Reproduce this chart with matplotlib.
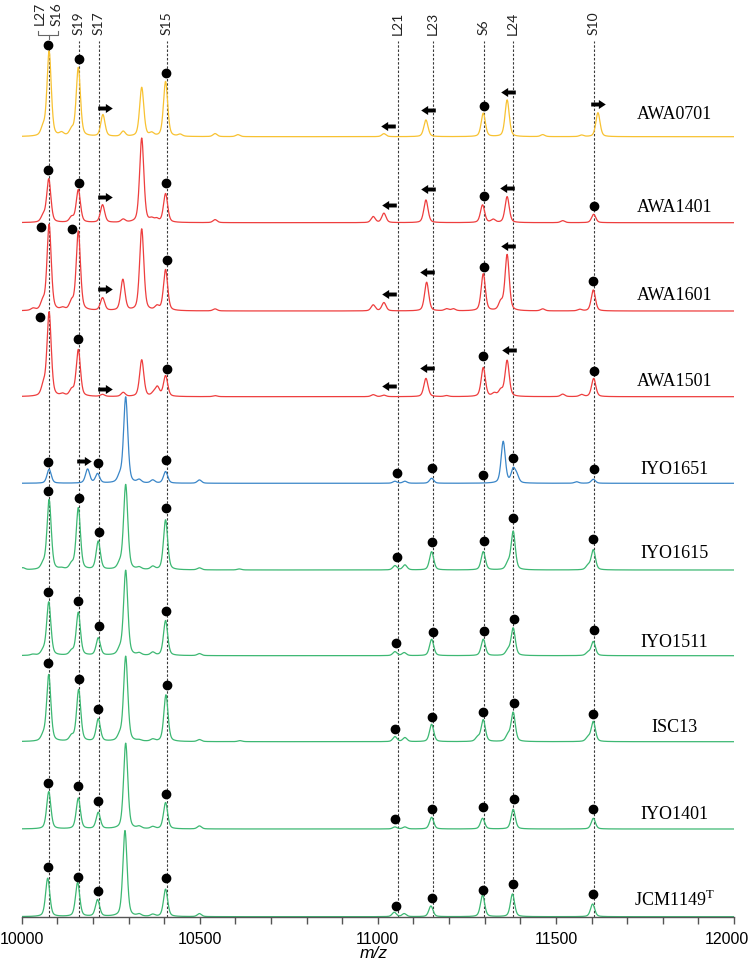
import matplotlib
matplotlib.use('Agg')

import numpy as np
import matplotlib.pyplot as plt
from matplotlib.transforms import ScaledTranslation

plt.rcParams['font.family'] = 'Liberation Sans'
plt.rcParams['mathtext.fontset'] = 'custom'
plt.rcParams['mathtext.rm'] = 'Liberation Serif'

# ---- data (m/z, height in px above the trace baseline) ----
strains = ['AWA0701', 'AWA1401', 'AWA1601', 'AWA1501', 'IYO1651',
           'IYO1615', 'IYO1511', 'ISC13', 'IYO1401', 'JCM1149$^{\\mathrm{T}}$']
groups = ['yellow', 'red', 'red', 'red', 'blue',
          'green', 'green', 'green', 'green', 'green']

marker_names = ['L21', 'L23', 'S6', 'L24', 'S10', 'S19', 'S17', 'S15']
marker_mz = [11057, 11155, 11298, 11380, 11608, 10161, 10216, 10407]
l27_mz = 10077

peaks = [
    # AWA0701
    [(10060, 8), (10077, 85), (10112, 3), (10140, 6), (10159, 68.7), (10228, 21.7),
     (10285, 5), (10337, 49), (10365, 3), (10404, 55), (10445, 2), (10543, 3),
     (10607, 2), (11017, 3), (11135, 16.7), (11296, 23.4), (11363, 36.7),
     (11463, 2), (11572, 1.5), (11618, 24)],
    # AWA1401
    [(10060, 6), (10076, 43.4), (10140, 5), (10159, 32.7), (10227, 17.7), (10285, 3),
     (10337, 84.4), (10365, 3), (10379, 3), (10404, 28.7), (10543, 3), (10987, 6),
     (11017, 9.4), (11135, 22.7), (11294, 17.7), (11324, 3), (11363, 26),
     (11519, 2), (11606, 8.4)],
    # AWA1601
    [(10032, 2), (10059, 8), (10077, 86), (10115, 2), (10140, 8), (10159, 79.3),
     (10227, 12.7), (10284, 31), (10337, 81.7), (10380, 4), (10404, 41), (10543, 2),
     (10987, 6), (11017, 8.3), (11137, 28.7), (11193, 2), (11212, 2), (11296, 37),
     (11345, 8), (11363, 56), (11463, 2), (11567, 1.5), (11605, 21)],
    # AWA1501
    [(10061, 10), (10077, 84), (10115, 2), (10140, 6), (10159, 46.7), (10227, 2),
     (10285, 4), (10337, 36.7), (10370, 3), (10381, 9), (10404, 20.7), (10543, 1),
     (10987, 2), (11017, 1.5), (11135, 18.3), (11193, 1), (11296, 29), (11327, 3),
     (11345, 6), (11363, 36), (11519, 2.5), (11572, 2), (11606, 18.3)],
    # IYO1651
    [(10077, 14), (10185, 14), (10213, 9.3), (10275, 6), (10292, 86), (10330, 3),
     (10368, 3), (10404, 11.6), (10499, 3.3), (11048, 2), (11076, 2), (11151, 5),
     (11352, 41.7), (11380, 13), (11390, 7), (11558, 1.5), (11605, 4)],
    # IYO1615
    [(10003, 2), (10060, 5), (10077, 70), (10112, 1), (10140, 5), (10159, 61.7),
     (10215, 28.3), (10275, 5), (10292, 85), (10330, 2), (10368, 3), (10404, 50),
     (10499, 2), (10611, 1), (11048, 4.3), (11076, 5), (11151, 18.3), (11296, 18.3),
     (11365, 6), (11380, 38.3), (11590, 4), (11605, 20)],
    # IYO1511
    [(10031, 1), (10060, 4), (10076, 53.4), (10140, 4), (10159, 43), (10215, 17.4),
     (10275, 5), (10292, 85), (10330, 2), (10368, 3), (10404, 35), (10499, 2),
     (11048, 4), (11074, 3), (11151, 16.4), (11296, 16.4), (11365, 5), (11380, 27.4),
     (11590, 3), (11605, 14)],
    # ISC13
    [(10060, 5), (10076, 66.7), (10140, 5), (10160, 51.7), (10215, 22.4), (10275, 5),
     (10292, 85), (10330, 1), (10368, 2), (10405, 46.7), (10499, 2), (10613, 1),
     (11048, 5), (11076, 4), (11151, 17.4), (11280, 4), (11296, 21.7), (11365, 6),
     (11380, 29), (11590, 4), (11605, 20)],
    # IYO1401
    [(10076, 37.3), (10159, 30.7), (10215, 16.3), (10292, 85.7), (10330, 2),
     (10368, 2), (10404, 26.3), (10499, 3), (11048, 2), (11076, 2), (11151, 11.7),
     (11294, 10.7), (11380, 19.7), (11605, 10.7)],
    # JCM1149T
    [(10073, 38.4), (10157, 34), (10213, 16.7), (10290, 86), (10330, 2), (10368, 2),
     (10404, 27.4), (10499, 3), (11046, 4.4), (11074, 3), (11149, 10.7),
     (11294, 21.7), (11378, 22.7), (11603, 12.7)],
]

dots = [
    [(10074, 91.4), (10161, 77.4), (10405, 63.4), (11298, 30.7)],
    [(10075, 52.7), (10161, 39.4), (10404, 39.4), (11298, 27), (11606, 16.7)],
    [(10054, 83.7), (10142, 81.7), (10407, 51), (11297, 44.3), (11605, 30.3)],
    [(10051, 79.4), (10159, 57.4), (10407, 27.7), (11296, 40.7), (11606, 26)],
    [(10075, 21), (10215, 20.3), (10405, 23.3), (11053, 10), (11152, 15),
     (11296, 8.3), (11380, 25), (11607, 14.3)],
    [(10075, 79), (10161, 71.7), (10216, 37.7), (10405, 62.3), (11053, 12.7),
     (11152, 27.7), (11298, 29), (11380, 52.3), (11605, 31.3)],
    [(10074, 64), (10157, 55), (10216, 29.7), (10404, 45), (11050, 12.4),
     (11154, 23.4), (11297, 24.7), (11381, 36.4), (11608, 25.7)],
    [(10073, 78.4), (10161, 62.7), (10214, 32.4), (10407, 56.7), (11048, 12.7),
     (11151, 24.4), (11294, 30), (11382, 38.4), (11605, 27.4)],
    [(10075, 45.7), (10157, 43), (10214, 28), (10404, 35), (11049, 9.7),
     (11152, 20.3), (11295, 22.3), (11382, 29.7), (11605, 20.3)],
    [(10073, 50), (10157, 40), (10213, 25.4), (10404, 38.4), (11051, 11),
     (11152, 19), (11296, 26.7), (11380, 32.4), (11605, 22.7)],
]

# arrows: (m/z, height, direction +1 right / -1 left)
arrows = [
    [(10233, 28.4, 1), (11028, 10.7, -1), (11140, 26.7, -1), (11365, 44.7, -1), (11618, 32.4, 1)],
    [(10233, 25.4, 1), (11030, 17.7, -1), (11140, 33.4, -1), (11364, 35, -1)],
    [(10233, 21.7, 1), (11030, 16.7, -1), (11138, 38.7, -1), (11365, 65.3, -1)],
    [(10233, 8, 1), (11030, 11, -1), (11138, 28.4, -1), (11368, 46.4, -1)],
    [(10176, 22.3, 1)],
    [], [], [], [], [],
]

# ---- layout (pixels) ----
baseline_px = [136.7, 222.7, 311, 396.7, 483.3, 570, 655.7, 741.7, 829, 916.7]
label_dy = [18, 11, 11, 11, 9, 12, 9, 10, 10, 11]
colors = {'yellow': '#F8C232', 'red': '#EE3E3E', 'blue': '#3A86C8', 'green': '#3DB873'}
TOP = 916.7

fig = plt.figure(figsize=(7.54, 9.64), dpi=100)
ax = fig.add_axes([21.7 / 754, 1 - TOP / 964, (734 - 21.7) / 754, TOP / 964])
ax.set_xlim(10000, 12000)
ax.set_ylim(0, TOP)

x = np.linspace(10000, 12000, 4001)


def peak_shape(x, c, h, fwhm=14.0, eta=0.4):
    g = np.exp(-4 * np.log(2) * ((x - c) / fwhm) ** 2)
    l = 1.0 / (1 + 4 * ((x - c) / fwhm) ** 2)
    return h * (eta * l + (1 - eta) * g)


arrow_r = [(-1, -0.27), (0.05, -0.27), (0.05, -0.62), (1, 0), (0.05, 0.62),
           (0.05, 0.27), (-1, 0.27), (-1, -0.27)]
arrow_l = [(-a, b) for a, b in arrow_r]

for i, name in enumerate(strains):
    base = TOP - baseline_px[i]
    y = np.full_like(x, base)
    for c, h in peaks[i]:
        y += peak_shape(x, c, h)
    ax.plot(x, y, color=colors[groups[i]], lw=0.9, zorder=2)
    if dots[i]:
        dx, dh = zip(*dots[i])
        ax.plot(dx, base + np.array(dh), 'o', color='black', ms=6, zorder=4)
    for c, h, d in arrows[i]:
        ax.plot(c, base + h, marker=arrow_r if d > 0 else arrow_l, color='black',
                ms=10.5, mew=0, zorder=4)
    ax.text(11832, base + label_dy[i], name, ha='center', va='baseline',
            fontsize=13, family='Liberation Serif')

# dashed guide lines
line_top = TOP - 41
for m in marker_mz + [l27_mz]:
    ax.plot([m, m], [0, line_top], color='#3a3a3a', lw=0.8, dashes=(2.2, 1.6), zorder=1)

# labels on top
lab_bottom = TOP - 35
for n, m in zip(marker_names, marker_mz):
    ax.text(m - 1, lab_bottom, n, rotation=90, ha='center', va='bottom',
            fontsize=10, family='Lato', color='#222222', clip_on=False)
ax.text(10050, TOP - 25, 'L27', rotation=90, ha='center', va='bottom',
        fontsize=10, family='Lato', color='#222222', clip_on=False)
ax.text(10098, TOP - 26.5, 'S16', rotation=90, ha='center', va='bottom',
        fontsize=10, family='Lato', color='#222222', clip_on=False)
# bracket joining L27 / S16
bx0, bx1 = 10046, 10103
ax.plot([bx0, bx0, bx1, bx1], [TOP - 31, TOP - 35, TOP - 35, TOP - 31],
        color='#666666', lw=0.8, clip_on=False)
ax.plot([l27_mz, l27_mz], [TOP - 35, TOP - 39], color='#666666', lw=0.8, clip_on=False)

# axis
for s in ['top', 'left', 'right']:
    ax.spines[s].set_visible(False)
ax.spines['bottom'].set_color('#555555')
ax.spines['bottom'].set_linewidth(1)
ax.set_yticks([])
ax.set_xticks(np.arange(10000, 12001, 500))
ax.set_xticks(np.arange(10000, 12001, 100), minor=True)
ax.tick_params(axis='x', which='both', direction='out', length=5, width=1,
               color='#555555', labelsize=11.5, pad=6)
# last label sits a bit left so it stays inside the picture
last = ax.xaxis.get_major_ticks()[-1].label1
last.set_transform(last.get_transform() + ScaledTranslation(-0.07, 0, fig.dpi_scale_trans))
ax.set_xlabel('m/z', fontsize=12.5, style='italic')
ax.xaxis.set_label_coords(0.494, -0.032)
ax.xaxis.label.set_va('top')

fig.savefig('out.png', dpi=100)
